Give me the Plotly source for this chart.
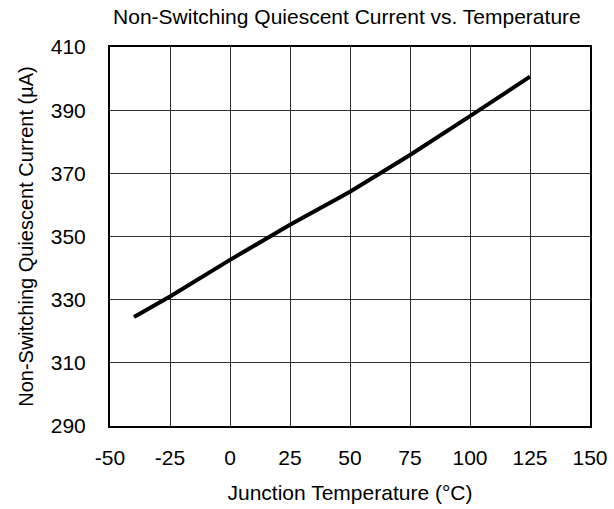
import plotly.graph_objects as go

temp_c = [-40, -25, 0, 25, 50, 75, 100, 125]
iq_ua = [324.5, 331.0, 342.6, 353.7, 364.2, 375.8, 388.1, 400.6]

x_ticks = [-50, -25, 0, 25, 50, 75, 100, 125, 150]
y_ticks = [290, 310, 330, 350, 370, 390, 410]

font = dict(family="Liberation Sans, Arial, sans-serif", size=21, color="black")

fig = go.Figure()
fig.add_trace(go.Scatter(
    x=temp_c,
    y=iq_ua,
    mode="lines",
    line=dict(color="black", width=4),
    showlegend=False,
))

fig.update_layout(
    width=614,
    height=509,
    margin=dict(l=110, r=24, t=47, b=83, autoexpand=False),
    paper_bgcolor="white",
    plot_bgcolor="white",
    font=font,
    title=dict(
        text="Non-Switching Quiescent Current vs. Temperature",
        x=0.565, xanchor="center", y=0.968, yanchor="middle",
        font=dict(size=21),
    ),
    xaxis=dict(
        range=[-50, 150],
        tickvals=x_ticks,
        ticktext=[str(t) for t in x_ticks],
        showgrid=True,
        gridcolor="#303030",
        gridwidth=1,
        zeroline=False,
        showline=True,
        linecolor="black",
        linewidth=2,
        mirror=True,
        ticks="",
        ticklabelstandoff=12,
        title=dict(text="Junction Temperature (°C)", standoff=17, font=dict(size=21)),
    ),
    yaxis=dict(
        range=[290, 410],
        tickvals=y_ticks,
        ticktext=[str(t) for t in y_ticks],
        showgrid=True,
        gridcolor="#303030",
        gridwidth=1,
        zeroline=False,
        showline=True,
        linecolor="black",
        linewidth=2,
        mirror=True,
        ticks="",
        ticklabelstandoff=18,
        title=dict(text="Non-Switching Quiescent Current (µA)", standoff=12, font=dict(size=20)),
    ),
)

# drop the default page margin so the figure sits at the window origin
fig.write_html(
    "out.html",
    config={"displayModeBar": False},
    post_script="document.body.style.margin='0';",
)
